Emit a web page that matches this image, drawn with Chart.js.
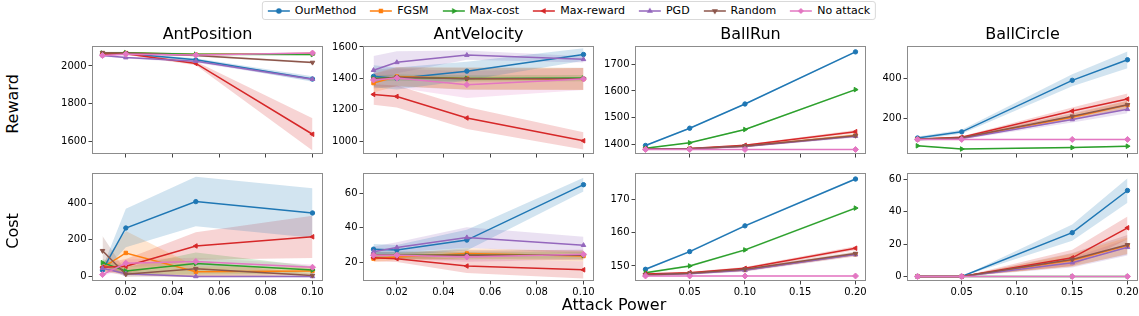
<!DOCTYPE html>
<html>
<head>
<meta charset="utf-8">
<script src="https://cdn.jsdelivr.net/npm/chart.js@4.4.0/dist/chart.umd.min.js"></script>
<style>
  body { margin: 0; background: #fff; font-family: "DejaVu Sans", sans-serif; }
  #fig { position: relative; width: 1139px; height: 316px; overflow: hidden; }
  canvas.panel { position: absolute; }
  .txt { position: absolute; color: #000; white-space: nowrap; }
  #legend { position: absolute; top: 1px; left: 569px; transform: translateX(-50%);
            border: 1px solid #d9d9d9; border-radius: 3px; height: 17px; white-space: nowrap;
            display: flex; align-items: center; padding: 0 5px; font-size: 11px; }
  #legend .item { display: flex; align-items: center; margin-right: 14px; white-space: nowrap; flex: none; }
  #legend .item:last-child { margin-right: 0; }
  #legend canvas { margin-right: 5px; }
</style>
</head>
<body>
<div id="fig">
  <div id="legend"></div>
</div>
<script>
const methods = ['OurMethod', 'FGSM', 'Max-cost', 'Max-reward', 'PGD', 'Random', 'No attack'];
const colors = ['#1f77b4', '#ff7f0e', '#2ca02c', '#d62728', '#9467bd', '#8c564b', '#e377c2'];

const xAnt = [0.01, 0.02, 0.05, 0.1];
const xBallRun = [0.01, 0.05, 0.1, 0.2];
const xBallCircle = [0.01, 0.05, 0.15, 0.2];

// rows: OurMethod, FGSM, Max-cost, Max-reward, PGD, Random, No attack
const antPosReward = [[2060, 2065, 2032, 1931], [2065, 2068, 2060, 2065], [2068, 2070, 2062, 2060],
  [2062, 2064, 2013, 1640], [2055, 2044, 2025, 1930], [2070, 2068, 2055, 2018], [2055, 2062, 2057, 2068]];
const antPosRewardBand = [[5, 5, 8, 15], [5, 5, 5, 5], [5, 5, 5, 5], [5, 5, 10, 85], [5, 5, 8, 8], [5, 5, 5, 5], [5, 5, 5, 5]];

const antVelReward = [[1413, 1400, 1446, 1552], [1370, 1412, 1400, 1396], [1400, 1405, 1400, 1402],
  [1298, 1285, 1148, 1003], [1452, 1502, 1548, 1521], [1395, 1408, 1398, 1398], [1390, 1402, 1360, 1396]];
const antVelRewardBand = [[70, 70, 60, 40], [60, 60, 70, 70], [20, 20, 20, 20], [65, 70, 70, 55], [90, 70, 30, 20], [60, 60, 70, 70], [40, 60, 85, 70]];

const ballRunReward = [[1395, 1460, 1551, 1747], [1382, 1383, 1392, 1433], [1385, 1405, 1455, 1605],
  [1382, 1384, 1396, 1447], [1382, 1383, 1391, 1430], [1382, 1383, 1393, 1432], [1380, 1380, 1380, 1380]];
const ballRunRewardBand = [[3, 3, 3, 3], [2, 2, 3, 6], [2, 2, 3, 3], [2, 2, 3, 6], [2, 2, 3, 6], [2, 2, 3, 6], [1, 1, 1, 1]];

const ballCircleReward = [[103, 134, 392, 495], [97, 104, 207, 268], [64, 48, 55, 62],
  [97, 107, 238, 298], [96, 101, 196, 247], [97, 105, 212, 270], [96, 96, 96, 96]];
const ballCircleRewardBand = [[8, 10, 30, 42], [5, 5, 15, 20], [3, 3, 3, 3], [5, 5, 18, 28], [5, 5, 15, 20], [5, 5, 15, 20], [3, 3, 3, 3]];

const antPosCost = [[34, 264, 408, 346], [48, 128, 25, 30], [75, 30, 70, 35],
  [50, 55, 166, 216], [45, 15, 0, 0], [140, 12, 42, 5], [10, 72, 82, 50]];
const antPosCostBand = [[15, 105, 135, 135], [20, 120, 30, 20], [20, 20, 60, 20], [20, 40, 75, 115], [20, 10, 5, 5], [80, 15, 40, 10], [10, 20, 20, 15]];

const antVelCost = [[27.5, 27, 32.8, 65], [22, 23, 25, 23.5], [24, 24, 24, 24],
  [22.5, 22, 17.7, 15.5], [26, 28.5, 34.3, 29.8], [24, 24, 24, 24], [24, 24, 23, 24.5]];
const antVelCostBand = [[3, 3, 6, 4], [2, 2, 3, 3], [2, 2, 2, 2], [2, 2, 4, 5], [3, 3, 6, 5], [2, 2, 3, 3], [2, 2, 3, 3]];

const ballRunCost = [[149, 154.3, 162, 176], [147.3, 147.8, 148.8, 153.5], [148, 150, 154.8, 167.3],
  [147.6, 148, 149.3, 155.3], [147.3, 147.7, 148.7, 153.4], [147.3, 147.8, 149, 153.7], [147, 147, 147, 147]];
const ballRunCostBand = [[0.3, 0.3, 0.3, 0.3], [0.3, 0.3, 0.4, 0.6], [0.3, 0.3, 0.3, 0.3], [0.3, 0.3, 0.4, 0.6], [0.3, 0.3, 0.4, 0.6], [0.3, 0.3, 0.4, 0.6], [0.2, 0.2, 0.2, 0.2]];

const ballCircleCost = [[0, 0, 27, 53], [0, 0, 10, 19], [0, 0, 0, 0],
  [0, 0, 11.5, 30], [0, 0, 8.5, 18], [0, 0, 10.5, 19.5], [0, 0, 0, 0]];
const ballCircleCostBand = [[0, 0, 5, 7.5], [0, 0, 4, 5], [0, 0, 0, 0], [0, 0, 5, 7], [0, 0, 3, 5], [0, 0, 4, 6], [0, 0, 0, 0]];

// axis ticks and ranges
const xTicksAnt = [0.02, 0.04, 0.06, 0.08, 0.10];
const xTicksBall = [0.05, 0.10, 0.15, 0.20];
const xRangeAnt = [0.0055, 0.1045];
const xRangeBall = [0.0005, 0.2095];

const titles = ['AntPosition', 'AntVelocity', 'BallRun', 'BallCircle'];

// layout (pixels)
const colLeft = [92, 363, 635, 907];
const plotW = 231;
const rowTop = [44, 171];
const plotH = 110;
const axisW = 60, padTop = 6, padRight = 8, axisH = 22;

const pointStyles = [
  { s: 'circle', r: 2.2, rot: 0 },
  { s: 'rect', r: 2.4, rot: 0 },
  { s: 'triangle', r: 2.6, rot: 90 },
  { s: 'triangle', r: 2.6, rot: -90 },
  { s: 'triangle', r: 2.6, rot: 0 },
  { s: 'triangle', r: 2.6, rot: 180 },
  { s: 'rectRot', r: 3, rot: 0 }
];

function alpha(hex, a) {
  const n = parseInt(hex.slice(1), 16);
  return `rgba(${n >> 16}, ${(n >> 8) & 255}, ${n & 255}, ${a})`;
}

const panels = [
  { row: 0, col: 0, xs: xAnt, mean: antPosReward, band: antPosRewardBand, y: [1536, 2105], yTicks: [1600, 1800, 2000] },
  { row: 0, col: 1, xs: xAnt, mean: antVelReward, band: antVelRewardBand, y: [919, 1606], yTicks: [1000, 1200, 1400, 1600] },
  { row: 0, col: 2, xs: xBallRun, mean: ballRunReward, band: ballRunRewardBand, y: [1363, 1769], yTicks: [1400, 1500, 1600, 1700] },
  { row: 0, col: 3, xs: xBallCircle, mean: ballCircleReward, band: ballCircleRewardBand, y: [23, 564], yTicks: [200, 400] },
  { row: 1, col: 0, xs: xAnt, mean: antPosCost, band: antPosCostBand, y: [-25, 564], yTicks: [0, 200, 400] },
  { row: 1, col: 1, xs: xAnt, mean: antVelCost, band: antVelCostBand, y: [9, 71.8], yTicks: [20, 40, 60] },
  { row: 1, col: 2, xs: xBallRun, mean: ballRunCost, band: ballRunCostBand, y: [145.5, 177.8], yTicks: [150, 160, 170] },
  { row: 1, col: 3, xs: xBallCircle, mean: ballCircleCost, band: ballCircleCostBand, y: [-2.8, 63.8], yTicks: [0, 20, 40, 60] }
];

const framePlugin = {
  id: 'frame',
  afterDraw(chart) {
    const a = chart.chartArea, c = chart.ctx;
    c.save();
    c.strokeStyle = '#8c8c8c';
    c.lineWidth = 1;
    c.strokeRect(Math.round(a.left) + 0.5, Math.round(a.top) + 0.5, Math.round(a.right - a.left) - 1, Math.round(a.bottom - a.top) - 1);
    c.restore();
  }
};

const fig = document.getElementById('fig');

function addText(text, css) {
  const d = document.createElement('div');
  d.className = 'txt';
  d.textContent = text;
  Object.assign(d.style, css);
  fig.appendChild(d);
  return d;
}

panels.forEach(p => {
  const cv = document.createElement('canvas');
  cv.className = 'panel';
  const w = axisW + plotW + padRight, h = padTop + plotH + axisH;
  cv.width = w; cv.height = h;
  cv.style.left = (colLeft[p.col] - axisW) + 'px';
  cv.style.top = (rowTop[p.row] - padTop) + 'px';
  cv.style.width = w + 'px'; cv.style.height = h + 'px';
  fig.appendChild(cv);

  const isAnt = p.xs === xAnt;
  const xTicks = isAnt ? xTicksAnt : xTicksBall;
  const xRange = isAnt ? xRangeAnt : xRangeBall;

  const datasets = [];
  methods.forEach((m, i) => {
    const up = p.xs.map((x, k) => ({ x, y: p.mean[i][k] + p.band[i][k] }));
    const lo = p.xs.map((x, k) => ({ x, y: p.mean[i][k] - p.band[i][k] }));
    datasets.push({ data: up, borderWidth: 0, pointRadius: 0, fill: false, order: 100 });
    datasets.push({ data: lo, borderWidth: 0, pointRadius: 0, fill: '-1', backgroundColor: alpha(colors[i], 0.2), order: 100 });
  });
  methods.forEach((m, i) => {
    datasets.push({
      label: m,
      data: p.xs.map((x, k) => ({ x, y: p.mean[i][k] })),
      borderColor: colors[i],
      backgroundColor: colors[i],
      borderWidth: 1.5,
      pointStyle: pointStyles[i].s,
      pointRadius: pointStyles[i].r,
      pointRotation: pointStyles[i].rot,
      pointBorderWidth: 1,
      fill: false,
      order: 20 - i,
      clip: 6
    });
  });

  new Chart(cv, {
    type: 'line',
    data: { datasets },
    plugins: [framePlugin],
    options: {
      responsive: false,
      animation: false,
      devicePixelRatio: 1,
      layout: { padding: { top: padTop, right: padRight, left: 0, bottom: 0 } },
      plugins: { legend: { display: false }, tooltip: { enabled: false }, filler: { drawTime: 'beforeDatasetsDraw' } },
      scales: {
        x: {
          type: 'linear', min: xRange[0], max: xRange[1],
          afterBuildTicks: s => { s.ticks = xTicks.map(v => ({ value: v })); },
          afterFit: s => { s.height = axisH; },
          grid: { display: true, drawOnChartArea: false, drawTicks: true, tickLength: 3.5, color: '#444' },
          border: { display: false },
          ticks: {
            display: p.row === 1, padding: 2, color: '#000', maxRotation: 0, autoSkip: false,
            font: { family: 'DejaVu Sans', size: 10 },
            callback: v => v.toFixed(2)
          }
        },
        y: {
          type: 'linear', min: p.y[0], max: p.y[1],
          afterBuildTicks: s => { s.ticks = p.yTicks.map(v => ({ value: v })); },
          afterFit: s => { s.width = axisW; },
          grid: { display: true, drawOnChartArea: false, drawTicks: true, tickLength: 3.5, color: '#444' },
          border: { display: false },
          ticks: {
            padding: 2, color: '#000', autoSkip: false,
            font: { family: 'DejaVu Sans', size: 10 },
            callback: v => String(v)
          }
        }
      }
    }
  });

  if (p.row === 0) {
    addText(titles[p.col], {
      left: (colLeft[p.col] + plotW / 2) + 'px', top: '24px',
      transform: 'translateX(-50%)', fontSize: '16px'
    });
  }
});

// row labels and shared axis label
addText('Reward', { left: '12px', top: '104px', fontSize: '16px', transform: 'translate(-50%, -50%) rotate(-90deg)' });
addText('Cost', { left: '12px', top: '231px', fontSize: '16px', transform: 'translate(-50%, -50%) rotate(-90deg)' });
addText('Attack Power', { left: '614px', top: '295px', fontSize: '16px', transform: 'translateX(-50%)' });

// legend
const legend = document.getElementById('legend');
methods.forEach((m, i) => {
  const item = document.createElement('div');
  item.className = 'item';
  const c = document.createElement('canvas');
  c.width = 22; c.height = 10;
  const g = c.getContext('2d');
  g.strokeStyle = colors[i];
  g.lineWidth = 1.5;
  g.beginPath(); g.moveTo(0, 5); g.lineTo(22, 5); g.stroke();
  g.fillStyle = colors[i];
  Chart.helpers.drawPoint(g, { pointStyle: pointStyles[i].s, radius: 2, rotation: pointStyles[i].rot, borderWidth: 1 }, 11, 5);
  g.fill();
  const t = document.createElement('span');
  t.textContent = m;
  item.appendChild(c);
  item.appendChild(t);
  legend.appendChild(item);
});
</script>
</body>
</html>
